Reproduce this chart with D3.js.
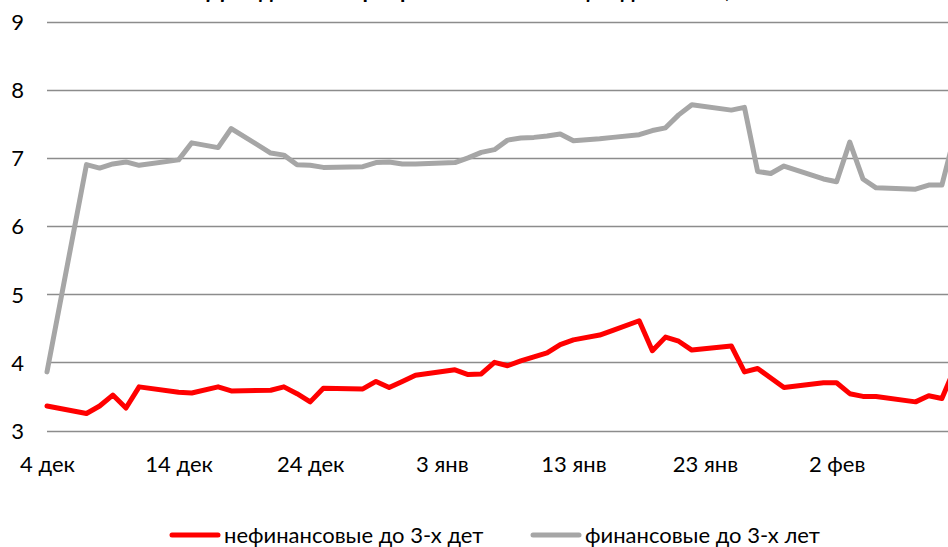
<!DOCTYPE html>
<html>
<head>
<meta charset="utf-8">
<script src="https://cdn.jsdelivr.net/npm/d3@7"></script>
<style>
    body { margin: 0; background: #fff; }
    #graph { width: 948px; height: 547px; }
    text { font-family: Lato, "Open Sans", sans-serif; fill: #000; }
</style>
</head>
<body>
<div id="graph"></div>
<script>
// trading days
var dates = [
    "2015-12-04", "2015-12-07", "2015-12-08", "2015-12-09", "2015-12-10", "2015-12-11",
    "2015-12-14", "2015-12-15", "2015-12-17", "2015-12-18",
    "2015-12-21", "2015-12-22", "2015-12-23", "2015-12-24", "2015-12-25",
    "2015-12-28", "2015-12-29", "2015-12-30", "2015-12-31", "2016-01-01",
    "2016-01-04", "2016-01-05", "2016-01-06", "2016-01-07", "2016-01-08",
    "2016-01-09", "2016-01-10", "2016-01-11", "2016-01-12", "2016-01-13",
    "2016-01-15", "2016-01-16", "2016-01-18", "2016-01-19", "2016-01-20",
    "2016-01-21", "2016-01-22", "2016-01-25", "2016-01-26", "2016-01-27",
    "2016-01-28", "2016-01-29", "2016-02-01", "2016-02-02", "2016-02-03",
    "2016-02-04", "2016-02-05", "2016-02-08", "2016-02-09", "2016-02-10",
    "2016-02-11"
];

var nonFinancial = [
    3.36, 3.25, 3.36, 3.52, 3.33, 3.64,
    3.56, 3.55, 3.64, 3.58,
    3.59, 3.64, 3.54, 3.42, 3.62,
    3.61, 3.72, 3.63, 3.72, 3.81,
    3.89, 3.82, 3.83, 4.00, 3.95,
    4.02, 4.08, 4.14, 4.26, 4.33,
    4.40, 4.47, 4.61, 4.17, 4.37,
    4.31, 4.18, 4.24, 3.86, 3.91,
    3.77, 3.63, 3.70, 3.70, 3.54,
    3.50, 3.50, 3.42, 3.51, 3.47,
    3.92
];

var financial = [
    3.86, 6.90, 6.85, 6.91, 6.94, 6.89,
    6.97, 7.22, 7.15, 7.43,
    7.07, 7.04, 6.90, 6.89, 6.86,
    6.87, 6.93, 6.94, 6.91, 6.91,
    6.93, 7.00, 7.08, 7.12, 7.26,
    7.29, 7.30, 7.32, 7.35, 7.25,
    7.28, 7.30, 7.34, 7.40, 7.44,
    7.63, 7.78, 7.70, 7.74, 6.80,
    6.77, 6.88, 6.69, 6.65, 7.23,
    6.69, 6.56, 6.54, 6.60, 6.60,
    7.35
];

var seriesNames = ["нефинансовые до 3-х дет", "финансовые до 3-х лет"];
var seriesColors = ["#ff0000", "#a6a6a6"];

var yTicks = [3, 4, 5, 6, 7, 8, 9];
var xTicks = ["2015-12-04", "2015-12-14", "2015-12-24", "2016-01-03", "2016-01-13", "2016-01-23", "2016-02-02"];
var xTickLabels = ["4 дек", "14 дек", "24 дек", "3 янв", "13 янв", "23 янв", "2 фев"];

var titleText = "Доходности корпоративных облигаций до 3-х лет, %";

var width = 948;
var height = 547;
var margin = { left: 47, top: 21.5, bottom: 117, right: 0 };

var parse = d3.timeParse("%Y-%m-%d");

var svg = d3.select("#graph")
    .append("svg")
    .attr("width", width)
    .attr("height", height);

var x = d3.scaleTime()
    .domain([parse("2015-12-04"), parse("2016-02-10")])
    .range([margin.left, margin.left + 68 * 13.16]);

var y = d3.scaleLinear()
    .domain([3, 9])
    .range([height - margin.bottom + 0.5, margin.top]);

svg.append("defs")
    .append("clipPath")
    .attr("id", "plot-clip")
    .append("rect")
    .attr("x", margin.left - 4)
    .attr("y", 0)
    .attr("width", width - margin.left + 4)
    .attr("height", height - margin.bottom + 10);

// title, cut off at the top like in the original (only descenders show)
svg.append("text")
    .attr("x", 480)
    .attr("y", -2)
    .attr("text-anchor", "middle")
    .style("font-size", "22px")
    .style("font-weight", "bold")
    .text(titleText);

// gridlines
svg.append("g")
    .attr("class", "grid")
    .selectAll("line")
    .data(yTicks)
    .enter()
    .append("line")
    .attr("x1", margin.left)
    .attr("x2", width)
    .attr("y1", function(d) { return Math.round(y(d)) + 0.5; })
    .attr("y2", function(d) { return Math.round(y(d)) + 0.5; })
    .attr("stroke", "#8c8c8c")
    .attr("stroke-width", 1.3);

// y axis labels
var yAxis = d3.axisLeft(y)
    .tickValues(yTicks)
    .tickSize(0)
    .tickPadding(0)
    .tickFormat(d3.format("d"));

var gY = svg.append("g")
    .attr("transform", "translate(24,0)")
    .call(yAxis);
gY.select(".domain").remove();
gY.selectAll("text")
    .style("font-size", "22px")
    .attr("dy", "0.36em");

// x axis labels
var xAxis = d3.axisBottom(x)
    .tickValues(xTicks.map(parse))
    .tickSize(0)
    .tickPadding(0)
    .tickFormat(function(d, i) { return xTickLabels[i]; });

var gX = svg.append("g")
    .attr("transform", "translate(0,456)")
    .call(xAxis);
gX.select(".domain").remove();
gX.selectAll("text")
    .style("font-size", "22px")
    .attr("dy", "0.71em");

// lines
var line = d3.line()
    .x(function(d) { return x(d.date); })
    .y(function(d) { return y(d.value); });

var series = [nonFinancial, financial].map(function(values, i) {
    return {
        key: seriesNames[i],
        color: seriesColors[i],
        values: values.map(function(v, j) { return { date: parse(dates[j]), value: v }; })
    };
});

svg.append("g")
    .attr("clip-path", "url(#plot-clip)")
    .selectAll(".line")
    .data(series.slice().reverse())
    .enter()
    .append("path")
    .attr("class", "line")
    .attr("fill", "none")
    .attr("stroke-width", 5)
    .attr("stroke-linejoin", "round")
    .attr("stroke-linecap", "round")
    .attr("stroke", function(d) { return d.color; })
    .attr("d", function(d) { return line(d.values); });

// legend
var legendPos = [172, 533];
var legend = svg.append("g")
    .selectAll("g")
    .data(series)
    .enter()
    .append("g")
    .attr("transform", function(d, i) { return "translate(" + legendPos[i] + ",535)"; });

legend.append("line")
    .attr("x1", 0)
    .attr("x2", 46)
    .attr("y1", 0)
    .attr("y2", 0)
    .attr("stroke", function(d) { return d.color; })
    .attr("stroke-width", 5)
    .attr("stroke-linecap", "round");

legend.append("text")
    .attr("x", 52)
    .attr("y", 0)
    .attr("dy", "0.35em")
    .style("font-size", "22px")
    .text(function(d) { return d.key; });
</script>
</body>
</html>
